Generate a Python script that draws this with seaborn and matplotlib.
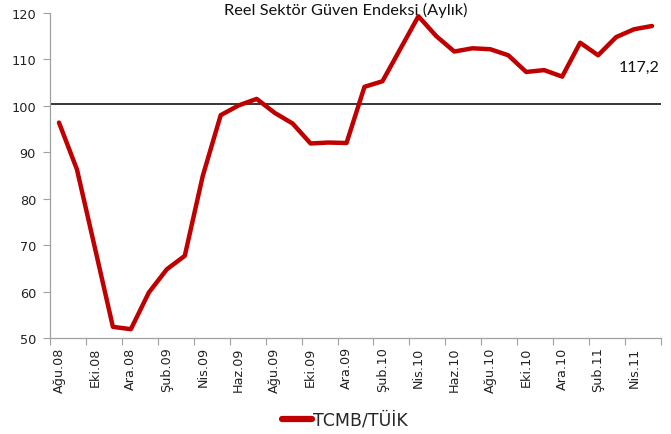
import numpy as np
import pandas as pd
import matplotlib
matplotlib.use("Agg")
import matplotlib.pyplot as plt
import seaborn as sns

# monthly index, Ağu.08 .. May.11
months = [
    "Ağu.08", "Eyl.08", "Eki.08", "Kas.08", "Ara.08", "Oca.09", "Şub.09", "Mar.09",
    "Nis.09", "May.09", "Haz.09", "Tem.09", "Ağu.09", "Eyl.09", "Eki.09", "Kas.09",
    "Ara.09", "Oca.10", "Şub.10", "Mar.10", "Nis.10", "May.10", "Haz.10", "Tem.10",
    "Ağu.10", "Eyl.10", "Eki.10", "Kas.10", "Ara.10", "Oca.11", "Şub.11", "Mar.11",
    "Nis.11", "May.11",
]
values = [
    96.4, 86.3, 69.4, 52.4, 51.9, 59.8, 64.8, 67.7,
    84.9, 98.0, 100.1, 101.5, 98.5, 96.2, 91.9, 92.1,
    92.0, 104.1, 105.3, 112.3, 119.3, 115.0, 111.7, 112.4,
    112.2, 110.9, 107.3, 107.7, 106.3, 113.6, 110.9, 114.8,
    116.5, 117.2,
]
ref_level = 100.4
last_label = "117,2"
series_name = "TCMB/TÜİK"
title = "Reel Sektör Güven Endeksi (Aylık)"

df = pd.DataFrame({"pos": np.arange(len(months)), "month": months, "value": values,
                   "series": series_name})

sns.set_style("white")
plt.rcParams["font.family"] = ["DejaVu Sans"]

fig = plt.figure(figsize=(6.71, 4.35), dpi=100)
ax = fig.add_axes([50/671, 96/435, 611/671, 325/435])

ax.axhline(ref_level, color="black", linewidth=1.1, zorder=2)
sns.lineplot(data=df, x="pos", y="value", hue="series", palette=["#C00000"],
             linewidth=3.2, ax=ax, zorder=3)

ax.set_xlim(-0.5, len(months) - 0.5)
ax.set_ylim(50, 120)
ax.set_yticks(range(50, 121, 10))
ax.tick_params(axis="y", labelsize=9.3, length=5, width=0.8, color="#a0a0a0",
               direction="out", left=True, pad=5, labelcolor="#222222")

# labels at every second month centre, tick marks on category boundaries
ax.set_xticks(df["pos"][::2])
ax.set_xticklabels(df["month"][::2], rotation=90, fontsize=9.2, color="#222222")
ax.tick_params(axis="x", which="major", length=0, pad=6)
ax.set_xticks(np.arange(-0.5, len(months), 2), minor=True)
ax.tick_params(axis="x", which="minor", length=5, width=0.8, color="#a0a0a0",
               direction="out", bottom=True)
ax.set_xlabel("")
ax.set_ylabel("")

for side in ["top", "right"]:
    ax.spines[side].set_visible(False)
for side in ["left", "bottom"]:
    ax.spines[side].set_color("#a0a0a0")
    ax.spines[side].set_linewidth(0.9)

ax.text(len(months) - 0.6, 108.5, last_label, ha="right", va="center",
        fontsize=11.5, family="Lato", color="#111111")

fig.text(346/671, 1 - 10/435, title, ha="center", va="center", fontsize=11.8,
         family="Lato", color="#111111")

leg = ax.legend(loc="center", bbox_to_anchor=(345/671, 1 - 421/435),
                bbox_transform=fig.transFigure, frameon=False, fontsize=12.5,
                handlelength=1.7, handletextpad=0.05)
for line in leg.get_lines():
    line.set_linewidth(4.5)

fig.savefig("out.png", dpi=100)
